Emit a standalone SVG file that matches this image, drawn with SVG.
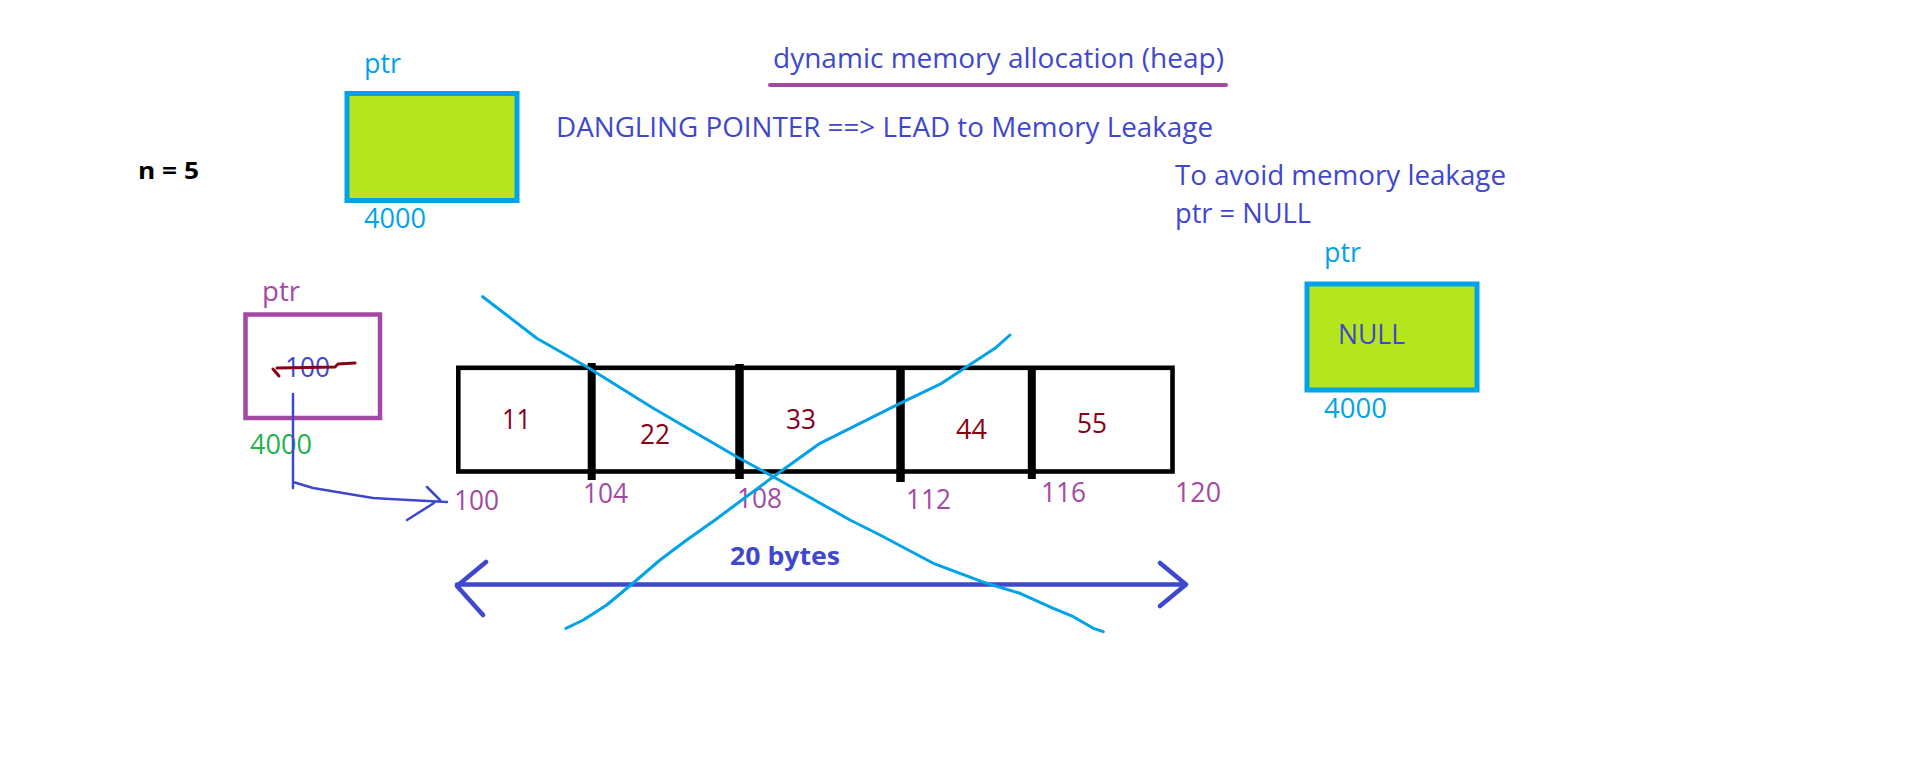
<svg xmlns="http://www.w3.org/2000/svg" width="1914" height="763" viewBox="0 0 1914 763">
<style>
text{font-family:"Open Sans","Noto Sans","Liberation Sans",sans-serif;font-size:27px}
.ind{fill:#3F48CC}
.blu{fill:#00A2E8}
.pur{fill:#A349A4}
.red{fill:#880015}
.grn{fill:#22B14C}
.b{font-weight:bold}
.box{fill:#B5E61D;stroke:#00A2E8;stroke-width:5}
.cross{fill:none;stroke:#00A2E8;stroke-width:3;stroke-linecap:round;stroke-linejoin:round}
</style>
<rect width="1914" height="763" fill="#ffffff"/>

<g id="title">
<text class="ind" x="773" y="68" textLength="451" lengthAdjust="spacingAndGlyphs">dynamic memory allocation (heap)</text>
<line x1="770" y1="85" x2="1226" y2="85" stroke="#A349A4" stroke-width="4" stroke-linecap="round"/>
</g>
<g id="note-dangling">
<text class="ind" x="556" y="137" textLength="657" lengthAdjust="spacingAndGlyphs">DANGLING POINTER ==&gt; LEAD to Memory Leakage</text>
</g>
<g id="note-avoid">
<text class="ind" x="1175" y="185" textLength="331" lengthAdjust="spacingAndGlyphs">To avoid memory leakage</text>
<text class="ind" x="1175" y="223" textLength="136" lengthAdjust="spacingAndGlyphs">ptr = NULL</text>
</g>
<g id="n-value">
<text class="b" x="138" y="179" font-size="24" textLength="61" lengthAdjust="spacingAndGlyphs" fill="#000000" style="font-size:24px">n = 5</text>
</g>

<g id="ptr-heap">
<text class="blu" x="364" y="73" textLength="37" lengthAdjust="spacingAndGlyphs">ptr</text>
<rect class="box" x="347" y="93.5" width="170" height="107"/>
<text class="blu" x="364" y="228" textLength="62" lengthAdjust="spacingAndGlyphs">4000</text>
</g>

<g id="ptr-null">
<text class="blu" x="1324" y="262" textLength="37" lengthAdjust="spacingAndGlyphs">ptr</text>
<rect class="box" x="1307" y="284" width="170" height="106"/>
<text class="ind" x="1338" y="344" textLength="67" lengthAdjust="spacingAndGlyphs">NULL</text>
<text class="blu" x="1324" y="418" textLength="63" lengthAdjust="spacingAndGlyphs">4000</text>
</g>

<g id="ptr-old">
<text class="pur" x="262" y="301" textLength="38" lengthAdjust="spacingAndGlyphs">ptr</text>
<rect x="245.5" y="314.5" width="134.5" height="103.5" fill="none" stroke="#A349A4" stroke-width="4.5"/>
<text class="ind" x="285" y="377" textLength="45" lengthAdjust="spacingAndGlyphs">100</text>
<path d="M273,369 L279,376 M277,368 L335,367 L338,364 L355,363" fill="none" stroke="#880015" stroke-width="3" stroke-linecap="round" stroke-linejoin="round"/>
<text class="grn" x="250" y="454" textLength="62" lengthAdjust="spacingAndGlyphs">4000</text>
</g>

<g id="array">
<rect x="458.3" y="367.8" width="714.2" height="103.7" fill="none" stroke="#000000" stroke-width="4.6"/>
<line x1="591.7" y1="363" x2="591.7" y2="480" stroke="#000000" stroke-width="8"/>
<line x1="739.5" y1="364" x2="739.5" y2="479" stroke="#000000" stroke-width="8.5"/>
<line x1="900.5" y1="366" x2="900.5" y2="482" stroke="#000000" stroke-width="8.5"/>
<line x1="1031.8" y1="366" x2="1031.8" y2="479" stroke="#000000" stroke-width="8"/>
<text class="red" x="502" y="429" textLength="29" lengthAdjust="spacingAndGlyphs">11</text>
<text class="red" x="640" y="444" textLength="30" lengthAdjust="spacingAndGlyphs">22</text>
<text class="red" x="786" y="429" textLength="30" lengthAdjust="spacingAndGlyphs">33</text>
<text class="red" x="956" y="439" textLength="31" lengthAdjust="spacingAndGlyphs">44</text>
<text class="red" x="1077" y="433" textLength="30" lengthAdjust="spacingAndGlyphs">55</text>
<text class="pur" x="454" y="510" textLength="45" lengthAdjust="spacingAndGlyphs">100</text>
<text class="pur" x="583" y="503" textLength="45" lengthAdjust="spacingAndGlyphs">104</text>
<text class="pur" x="737" y="508" textLength="45" lengthAdjust="spacingAndGlyphs">108</text>
<text class="pur" x="906" y="509" textLength="45" lengthAdjust="spacingAndGlyphs">112</text>
<text class="pur" x="1041" y="502" textLength="45" lengthAdjust="spacingAndGlyphs">116</text>
<text class="pur" x="1175" y="502" textLength="46" lengthAdjust="spacingAndGlyphs">120</text>
</g>

<g id="size-label">
<text class="ind b" x="730" y="565" textLength="110" lengthAdjust="spacingAndGlyphs" style="font-size:25px">20 bytes</text>
</g>

<g id="connectors" fill="none" stroke="#3F48CC" stroke-linecap="round" stroke-linejoin="round">
<path d="M293,394 V488 M293,482 L313,488 L373,498 L390,499 L447,502 M427,487 L440,500 M407,520 L434,503" stroke-width="2.5"/>
<path d="M457,584.5 H1186 M486,562 L457,586 L483,615 M1160,563 L1186,584.5 L1160,606" stroke-width="4.5"/>
</g>

<g id="cross-out">
<path class="cross" d="M482.7,296.7 L500,310 L536.7,338.3 L586.7,366.7 L653.3,408.3 L736.7,456.7 L773.3,476.7 L850,520 L880,535 L933.3,563.3 L986.7,583.3 L1020,593.3 L1053.3,608.3 L1073.3,616.7 L1093.3,628.3 L1103.3,631.7"/>
<path class="cross" d="M566,628.3 L583.3,620 L606.7,605 L636.7,580 L660,560 L686.7,540 L715,520 L773.3,476.7 L820,443.3 L880,413.3 L900,403.3 L941.7,383.3 L966.7,366.7 L995,348.3 L1010,335"/>
</g>
</svg>
